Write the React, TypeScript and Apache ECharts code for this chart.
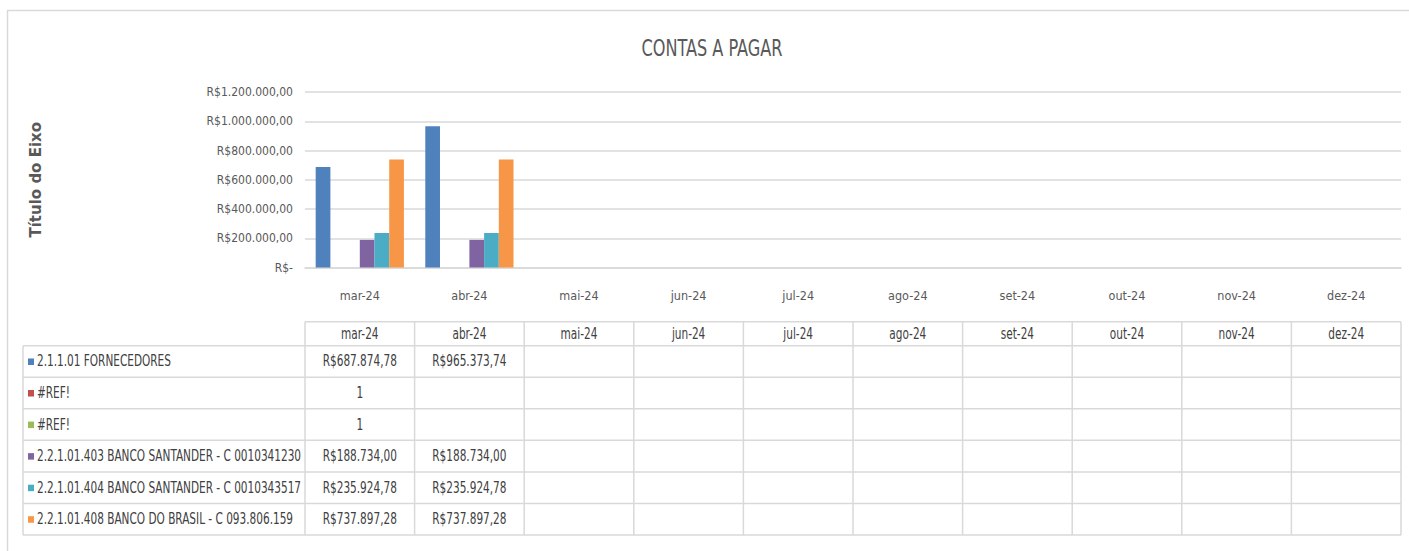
import React, { useEffect, useRef } from "react";
import * as echarts from "echarts";

const categories = ["mar-24", "abr-24", "mai-24", "jun-24", "jul-24", "ago-24", "set-24", "out-24", "nov-24", "dez-24"];
const seriesNames = [
  "2.1.1.01 FORNECEDORES",
  "#REF!",
  "#REF!",
  "2.2.1.01.403 BANCO SANTANDER - C 0010341230",
  "2.2.1.01.404 BANCO SANTANDER - C 0010343517",
  "2.2.1.01.408 BANCO DO BRASIL - C 093.806.159",
];
const fornecedores = [687874.78, 965373.74, null, null, null, null, null, null, null, null];
const ref1 = [1, null, null, null, null, null, null, null, null, null];
const ref2 = [1, null, null, null, null, null, null, null, null, null];
const santander403 = [188734.0, 188734.0, null, null, null, null, null, null, null, null];
const santander404 = [235924.78, 235924.78, null, null, null, null, null, null, null, null];
const bancoBrasil = [737897.28, 737897.28, null, null, null, null, null, null, null, null];
const seriesValues = [fornecedores, ref1, ref2, santander403, santander404, bancoBrasil];
const colors = ["#4F81BD", "#C0504D", "#9BBB59", "#8064A2", "#4BACC6", "#F79646"];
const yTicks = [0, 200000, 400000, 600000, 800000, 1000000, 1200000];

const FONT = "'DejaVu Sans Condensed', 'DejaVu Sans', sans-serif";

function brl(v: number): string {
  const [i, d] = Math.abs(v).toFixed(2).split(".");
  const withDots = i.replace(/\B(?=(\d{3})+(?!\d))/g, ".");
  return "R$" + withDots + "," + d;
}
function cellText(v: number | null): string {
  if (v === null || v === undefined) return "";
  return v >= 1000 ? brl(v) : String(v);
}

export default function App() {
  const ref = useRef<HTMLDivElement>(null);
  useEffect(() => {
    const W = 1409, H = 551;
    const chart = echarts.init(ref.current!, undefined, { renderer: "svg" });
    const gridLeft = 305, gridRight = 8, gridTop = 92, gridBottom = 283.5;
    const plotRight = W - gridRight;
    const colW = (plotRight - gridLeft) / categories.length;
    const tableLeft = 23;
    const headerTop = 321.7, headerH = 24, rowH = 31.55;
    const lineColor = "#D9D9D9";
    const textColor = "#404040";
    const tScale = 0.78;
    const tFont = `15px ${FONT}`;

    const g: any[] = [];
    g.push({ type: "rect", shape: { x: 7.5, y: 10.5, width: W + 20, height: H + 20 }, style: { fill: "none", stroke: lineColor, lineWidth: 1.5 }, silent: true });
    // title
    g.push({ type: "text", x: 712, y: 48, scaleX: 0.78, style: { text: "CONTAS A PAGAR", fill: "#595959", font: `23px ${FONT}`, align: "center", verticalAlign: "middle" } });
    const rowsTop = headerTop + headerH;
    const tableBottom = rowsTop + rowH * seriesNames.length;
    g.push({ type: "line", shape: { x1: gridLeft, y1: headerTop, x2: plotRight, y2: headerTop }, style: { stroke: lineColor, lineWidth: 1.5 } });
    for (let r = 0; r <= seriesNames.length; r++) {
      const y = rowsTop + r * rowH;
      g.push({ type: "line", shape: { x1: tableLeft, y1: y, x2: plotRight, y2: y }, style: { stroke: lineColor, lineWidth: 1.5 } });
    }
    g.push({ type: "line", shape: { x1: tableLeft, y1: rowsTop, x2: tableLeft, y2: tableBottom }, style: { stroke: lineColor, lineWidth: 1.5 } });
    for (let c = 0; c <= categories.length; c++) {
      const x = gridLeft + c * colW;
      g.push({ type: "line", shape: { x1: x, y1: headerTop, x2: x, y2: tableBottom }, style: { stroke: lineColor, lineWidth: 1.5 } });
    }
    categories.forEach((cat, c) => {
      g.push({ type: "text", x: gridLeft + (c + 0.5) * colW, y: headerTop + headerH / 2, scaleX: tScale, style: { text: cat, fill: textColor, font: tFont, align: "center", verticalAlign: "middle" } });
    });
    seriesNames.forEach((name, r) => {
      const yMid = rowsTop + (r + 0.5) * rowH;
      g.push({ type: "rect", shape: { x: 28, y: yMid - 3, width: 6, height: 6.5 }, style: { fill: colors[r] } });
      g.push({ type: "text", x: 37, y: yMid, scaleX: tScale, style: { text: name, fill: textColor, font: tFont, align: "left", verticalAlign: "middle" } });
      seriesValues[r].forEach((v, c) => {
        const t = cellText(v);
        if (!t) return;
        g.push({ type: "text", x: gridLeft + (c + 0.5) * colW, y: yMid, scaleX: tScale, style: { text: t, fill: textColor, font: tFont, align: "center", verticalAlign: "middle" } });
      });
    });

    chart.setOption({
      animation: false,
      backgroundColor: "#FFFFFF",
      grid: { left: gridLeft, right: gridRight, top: gridTop, bottom: gridBottom },
      xAxis: {
        type: "category",
        data: categories,
        axisLine: { show: true, lineStyle: { color: lineColor, width: 1.5 } },
        axisTick: { show: false },
        axisLabel: { color: "#595959", fontFamily: FONT, fontSize: 12.5, margin: 21 },
      },
      yAxis: {
        type: "value",
        min: yTicks[0],
        max: yTicks[yTicks.length - 1],
        interval: yTicks[1] - yTicks[0],
        name: "Título do Eixo",
        nameLocation: "middle",
        nameRotate: 90,
        nameGap: 262,
        nameTextStyle: { fontFamily: "'DejaVu Sans', sans-serif", fontSize: 15, fontWeight: "bold", color: "#595959" },
        axisLine: { show: false },
        axisTick: { show: false },
        splitLine: { lineStyle: { color: lineColor, width: 1.5 } },
        axisLabel: {
          color: "#595959",
          fontFamily: FONT,
          fontSize: 12,
          margin: 12,
          formatter: (v: number) => (v === 0 ? "R$-" : brl(v)),
        },
      },
      series: seriesNames.map((name, i) => ({
        type: "bar",
        name,
        data: seriesValues[i],
        itemStyle: { color: colors[i] },
        barGap: "0%",
        barCategoryGap: "19.5%",
      })),
      graphic: g,
    });
    return () => chart.dispose();
  }, []);
  return <div ref={ref} style={{ position: "absolute", left: 0, top: 0, width: 1409, height: 551 }} />;
}
